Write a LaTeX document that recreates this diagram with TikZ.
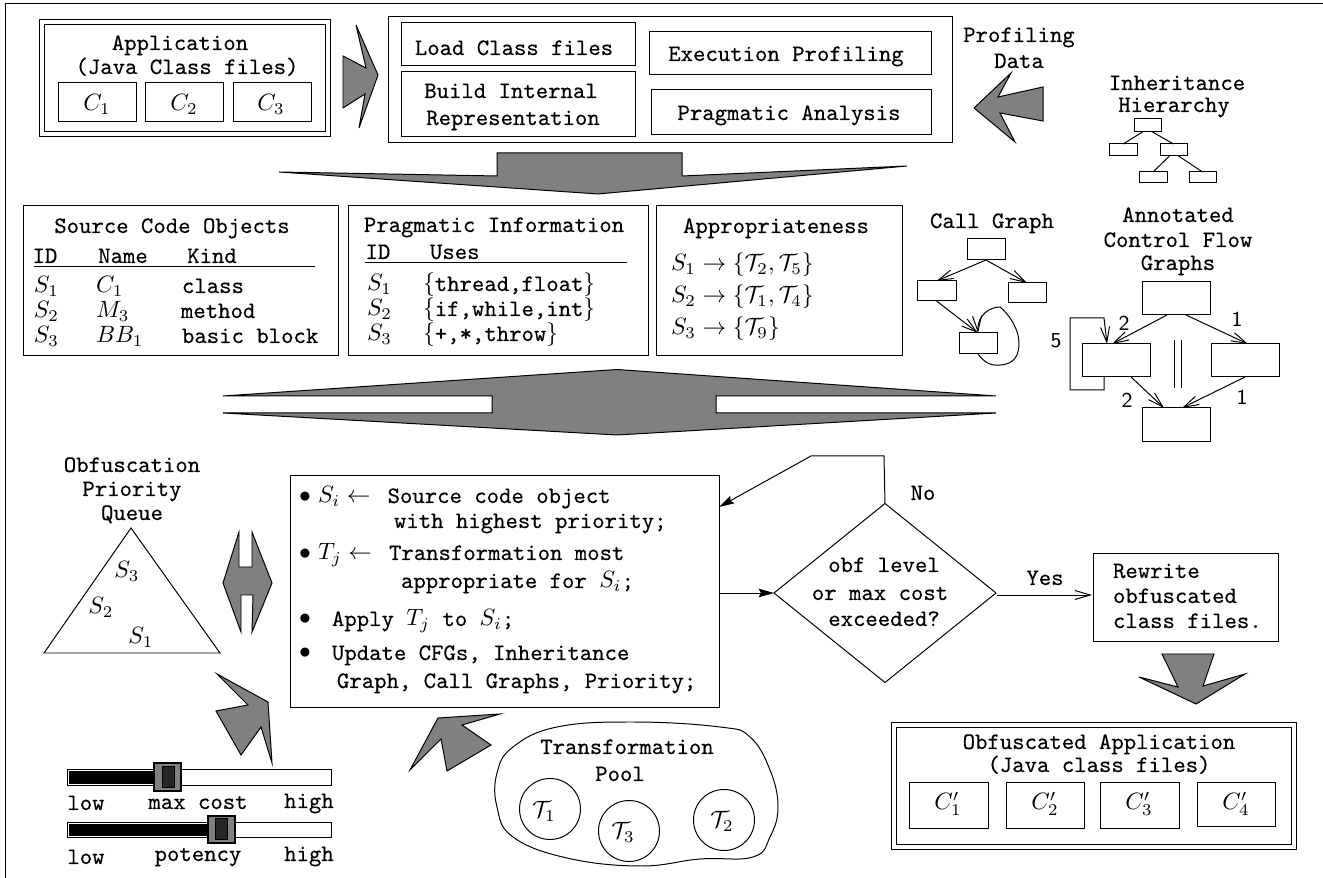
\documentclass[tikz,border=0pt]{standalone}
\usepackage{fontspec}
\setmonofont[FakeBold=0.35]{Latin Modern Mono}
\usetikzlibrary{arrows.meta,calc,shapes.geometric}
\definecolor{biggray}{HTML}{808080}
\tikzset{
  txt/.style={inner sep=0pt,outer sep=0pt,font=\ttfamily},
  rbox/.style={draw=black,fill=none,rectangle,inner sep=0pt,outer sep=0pt},
  bigarrow/.style={draw=black,fill=biggray,line join=miter},
  openarrow/.style={-{Straight Barb[length=6.5pt,width=3.8pt]}},
  fillarrow/.style={-{Stealth[length=6.5pt,width=3.6pt,inset=1pt]}},
  blackbar/.style={rbox,draw=none,fill=black},
  thumb/.style={rbox,fill=biggray,line width=0.5pt},
  thumbin/.style={rbox,fill=black!85},
  pic label/.style={inner sep=0pt,outer sep=0pt,font=\sffamily\fontsize{9}{9}\selectfont}
}
\newcommand{\BoxN}[6][]{\node[rbox,#1,minimum width={(#5-#3)*0.4237pt},minimum height={(#6-#4)*0.4237pt}] (#2) at ({(#3+#5)/2},{(#4+#6)/2}) {};}
\newcommand{\TxtC}[4]{\node[txt,anchor=base] (#1) at (#2,{#3+1}) {#4};}
\newcommand{\TxtL}[4]{\node[txt,anchor=base west] (#1) at (#2,{#3+1}) {#4};}
\begin{document}
\begin{tikzpicture}[x=0.4237pt,y=-0.4237pt,line width=0.42pt]
\useasboundingbox (0,0) rectangle (1323,878);
% frame
\draw (5,878) -- (5,4) -- (1323,4);

% Application
\BoxN{appO}{39}{20}{330}{137}
\BoxN{appI}{44}{25}{325}{132}
\TxtC{appT}{180}{49}{Application}
\TxtC{appU}{187}{73}{(Java Class files)}
\BoxN{c1}{58}{83}{136}{122}
\BoxN{c2}{145}{83}{223}{122}
\BoxN{c3}{233}{83}{311}{122}
\TxtC{c1t}{97}{110}{$C_1$}
\TxtC{c2t}{184}{110}{$C_2$}
\TxtC{c3t}{271}{110}{$C_3$}
\draw[bigarrow] (356,25) -- (378,75) -- (359,128) -- (365,94) -- (343,108) -- (343,56) -- (366,68) -- cycle;

% Analysis box
\BoxN{anO}{388}{17}{952}{143}
\BoxN{load}{401}{23}{635}{66}
\BoxN{build}{401}{72}{635}{137}
\BoxN{exec}{649}{32}{931}{75}
\BoxN{prag}{651}{90}{931}{135}
\TxtC{loadT}{514}{54}{Load Class files}
\TxtC{buildT}{511}{97}{Build Internal}
\TxtC{buildU}{513}{124}{Representation}
\TxtC{execT}{786}{60}{Execution Profiling}
\TxtC{pragT}{789}{119}{Pragmatic Analysis}

% Profiling data
\TxtC{profT}{1019}{41}{Profiling}
\TxtC{profU}{1019}{67}{Data}
\draw[bigarrow] (974,108) -- (1011,73) -- (998,97) -- (1043,87) -- (1043,121) -- (1000,113) -- (1015,142) -- cycle;

% Inheritance
\TxtC{inhT}{1177}{89}{Inheritance}
\TxtC{inhU}{1174}{111}{Hierarchy}
\BoxN{iR}{1134}{119}{1161}{132}
\BoxN{iL}{1109}{144}{1137}{156}
\BoxN{iM}{1160}{144}{1187}{156}
\BoxN{iA}{1139}{172}{1167}{183}
\BoxN{iB}{1189}{172}{1216}{183}
\draw ($(iR.south)+(-5,0)$) -- (iL.north);
\draw ($(iR.south)+(5,0)$) -- (iM.north);
\draw ($(iM.south)+(-4,0)$) -- (iA.north);
\draw ($(iM.south)+(5,0)$) -- (iB.north);

% big down arrow
\draw[bigarrow] (279,172) -- (497,176) -- (497,153) -- (682,153) -- (682,176) -- (907,166) -- (598,194) -- cycle;

% Source code objects
\BoxN{src}{23}{206}{338}{356}
\TxtC{srcT}{172}{232}{Source Code Objects}
\TxtC{srcA}{45}{262}{ID}
\TxtC{srcB}{123}{262}{Name}
\TxtC{srcC}{212}{262}{Kind}
\draw (34,267) -- (315,267);
\TxtL{s1}{34}{292}{$S_1$}
\TxtL{s2}{34}{317}{$S_2$}
\TxtL{s3}{34}{342}{$S_3$}
\TxtL{n1}{96}{292}{$C_1$}
\TxtL{n2}{96}{317}{$M_3$}
\TxtL{n3}{96}{342}{$BB_1$}
\TxtL{k1}{182}{292}{class}
\TxtL{k2}{181}{317}{method}
\TxtL{k3}{182}{342}{basic block}

% Pragmatic information
\BoxN{pri}{348}{206}{648}{356}
\TxtC{priT}{494}{231}{Pragmatic Information}
\TxtC{priA}{378}{258}{ID}
\TxtL{priB}{430}{258}{Uses}
\draw (365,263) -- (627,263);
\TxtL{p1}{367}{290}{$S_1$}
\TxtL{p2}{367}{315}{$S_2$}
\TxtL{p3}{367}{340}{$S_3$}
\TxtL{u1}{423}{290}{$\{$thread,float$\}$}
\TxtL{u2}{423}{315}{$\{$if,while,int$\}$}
\TxtL{u3}{423}{340}{$\{$+,*,throw$\}$}

% Appropriateness
\BoxN{apr}{656}{206}{902}{356}
\TxtC{aprT}{776}{232}{Appropriateness}
\TxtL{a1}{671}{270}{$S_1\rightarrow\{\mathcal{T}_2,\mathcal{T}_5\}$}
\TxtL{a2}{671}{302}{$S_2\rightarrow\{\mathcal{T}_1,\mathcal{T}_4\}$}
\TxtL{a3}{671}{334}{$S_3\rightarrow\{\mathcal{T}_9\}$}

% Call graph
\TxtC{cgT}{992}{227}{Call Graph}
\BoxN{cA}{967}{239}{1005}{260}
\BoxN{cB}{917}{281}{956}{301}
\BoxN{cC}{1008}{283}{1046}{303}
\BoxN{cD}{959}{333}{997}{354}
\draw[openarrow] (cA.south) -- (cB.north);
\draw[openarrow] (cA.south) -- (cC.north);
\draw[openarrow] (cB.south) -- (cD.north);
\draw[openarrow] (cD.south) .. controls (984,362) and (990,366) .. (1000,365)
  .. controls (1015,364) and (1019,355) .. (1019,343)
  .. controls (1019,330) and (1010,315) .. (1000,307)
  .. controls (990,307) and (977,315) .. (cD.north);

% Annotated CFG
\TxtC{acT}{1178}{221}{Annotated}
\TxtC{acU}{1178}{246}{Control Flow}
\TxtC{acV}{1178}{269}{Graphs}
\BoxN{fA}{1142}{282}{1210}{315}
\BoxN{fB}{1082}{344}{1150}{377}
\BoxN{fC}{1211}{344}{1279}{377}
\BoxN{fD}{1142}{408}{1210}{442}
\draw[openarrow] ($(fA.south)+(-9,0)$) -- ($(fB.north)+(-4,0)$);
\draw[openarrow] ($(fA.south)+(10,0)$) -- ($(fC.north)+(3,0)$);
\draw[openarrow] ($(fB.south)+(15,0)$) -- ($(fD.north)+(-12,0)$);
\draw[openarrow] (fC.south) -- ($(fD.north)+(6,0)$);
\draw[openarrow] ($(fB.south)+(-12,0)$) -- (1104,390) -- (1070,390) -- (1070,318) -- (1104,318) -- ($(fB.north)+(-9,0)$);
\draw (1174,340) -- (1174,388);
\draw (1181,340) -- (1181,388);
\node[pic label] (l1) at (1124,323) {2};
\node[pic label] (l2) at (1237,319) {1};
\node[pic label] (l3) at (1056,341) {5};
\node[pic label] (l4) at (1127,400) {2};
\node[pic label] (l5) at (1242,397) {1};

% big slotted arrow
\draw[bigarrow] (223,396) -- (617,369.5) -- (996,396) -- (716,396) -- (716,413) -- (996,413) -- (617,435) -- (223,413) -- (492,413) -- (492,396) -- cycle;

% Priority queue
\TxtC{oqA}{132}{471}{Obfuscation}
\TxtC{oqB}{132}{495}{Priority}
\TxtC{oqC}{132}{519}{Queue}
\draw (131,528) -- (220,653) -- (44,653) -- cycle;
\TxtC{q3}{127}{577}{$S_3$}
\TxtC{q2}{101}{613}{$S_2$}
\TxtC{q1}{141}{643}{$S_1$}
\draw[bigarrow] (239,532) -- (239,567) -- (252,567) -- (252,532) -- (272,583) -- (252,632) -- (253,595) -- (241,595) -- (241,632) -- (223,583) -- cycle;
\draw[bigarrow] (217,674) -- (268,702) -- (272,763) -- (261,727) -- (241,755) -- (216,711) -- (248,705) -- cycle;

% Sliders
\BoxN{t1}{67}{769}{331}{785}
\BoxN[blackbar]{b1}{69}{771}{153}{784}
\BoxN[thumb]{h1}{154}{763}{181}{791}
\BoxN[thumbin]{i1}{162}{766}{174}{787}
\TxtC{lo1}{86}{809}{low}
\TxtC{mc}{198}{808}{max cost}
\TxtC{hi1}{309}{807}{high}
\BoxN{t2}{67}{822}{331}{837}
\BoxN[blackbar]{b2}{69}{824}{208}{836}
\BoxN[thumb]{h2}{208}{816}{235}{843}
\BoxN[thumbin]{i2}{215}{818}{227}{839}
\TxtC{lo2}{86}{863}{low}
\TxtC{pt}{198}{860}{potency}
\TxtC{hi2}{309}{860}{high}

% Main box
\BoxN{main}{290}{475}{719}{707}
\TxtC{bu1}{305}{502}{$\bullet$}
\TxtL{m1}{318}{502}{$S_i\leftarrow$\hspace{2pt} Source code object}
\TxtL{m2}{394}{527}{with highest priority;}
\TxtC{bu2}{305}{559}{$\bullet$}
\TxtL{m3}{318}{559}{$T_j\leftarrow$\hspace{2pt} Transformation most}
\TxtL{m4}{401}{587}{appropriate for $S_i$;}
\TxtC{bu3}{305}{624}{$\bullet$}
\TxtL{m5}{332}{625}{Apply $T_j$ to $S_i$;}
\TxtC{bu4}{305}{658}{$\bullet$}
\TxtL{m6}{332}{659}{Update CFGs, Inheritance}
\TxtL{m7}{337}{687}{Graph, Call Graphs, Priority;}

% Decision
\node[draw,diamond,inner sep=0pt,outer sep=0pt,minimum width={222*0.4237pt},minimum height={179*0.4237pt}] (dia) at (885,593) {};
\TxtC{d1}{884}{571}{obf level}
\TxtC{d2}{880}{599}{or max cost}
\TxtC{d3}{884}{625}{exceeded?}
\TxtC{no}{923}{499}{No}
\TxtC{yes}{1045}{584}{Yes}
\draw[fillarrow] ($(main.east)+(0,2)$) -- (dia.west);
\draw[fillarrow] (dia.north) -- (884,456) -- (811,456) -- ($(main.north east)+(0,32)$);
\BoxN{rew}{1093}{553}{1278}{641}
\draw[openarrow] ($(dia.east)+(1,2)$) -- ($(rew.west)+(-1,-2)$);
\TxtL{r1}{1113}{577}{Rewrite}
\TxtL{r2}{1113}{602}{obfuscated}
\TxtL{r3}{1113}{627}{class files.}
\draw[bigarrow] (1162,654) -- (1214,654) -- (1203,686) -- (1245,674) -- (1196,704) -- (1139,677) -- (1178,687) -- cycle;

% Output application
\BoxN{outO}{891}{722}{1296}{849}
\BoxN{outI}{896}{727}{1291}{844}
\TxtC{outT}{1099}{748}{Obfuscated Application}
\TxtC{outU}{1099}{771}{(Java class files)}
\BoxN{d1b}{909}{782}{988}{828}
\BoxN{d2b}{1006}{782}{1084}{828}
\BoxN{d3b}{1100}{782}{1179}{828}
\BoxN{d4b}{1197}{782}{1275}{826}
\TxtC{d1t}{948}{809}{$C'_1$}
\TxtC{d2t}{1045}{809}{$C'_2$}
\TxtC{d3t}{1139}{809}{$C'_3$}
\TxtC{d4t}{1236}{809}{$C'_4$}

% Transformation pool
\draw plot[smooth cycle,tension=0.7] coordinates {(497,773) (513,747) (557,727) (633,722) (720,727) (750,737) (770,770) (778,807) (770,837) (753,857) (700,859) (640,866) (567,858) (513,837) (497,807)};
\draw[bigarrow] (410,770) -- (438,718) -- (500,714) -- (462,725) -- (491,745) -- (447,771) -- (441,739) -- cycle;
\TxtC{tpT}{627}{753}{Transformation}
\TxtC{tpU}{620}{780}{Pool}
\node[draw,circle,inner sep=0pt,outer sep=0pt,minimum size={61*0.4237pt}] (tc1) at (550,809) {};
\node[draw,circle,inner sep=0pt,outer sep=0pt,minimum size={61*0.4237pt}] (tc3) at (629,831) {};
\node[draw,circle,inner sep=0pt,outer sep=0pt,minimum size={61*0.4237pt}] (tc2) at (724,820) {};
\TxtC{tt1}{544}{817}{$\mathcal{T}_1$}
\TxtC{tt3}{623}{838}{$\mathcal{T}_3$}
\TxtC{tt2}{722}{827}{$\mathcal{T}_2$}
\end{tikzpicture}
\end{document}
